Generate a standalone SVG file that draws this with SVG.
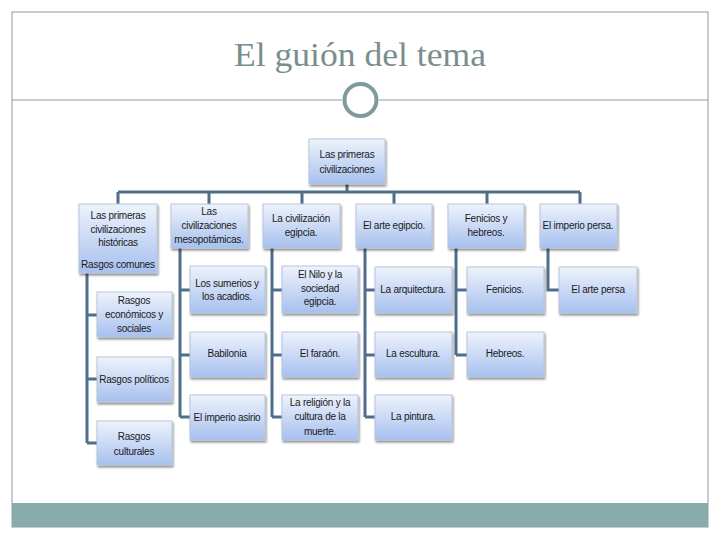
<svg xmlns="http://www.w3.org/2000/svg" width="720" height="540" viewBox="0 0 720 540">
<defs>
<linearGradient id="g" x1="0" y1="0" x2="0" y2="1">
<stop offset="0" stop-color="#eef3fc"/>
<stop offset="1" stop-color="#a7c0ee"/>
</linearGradient>
<filter id="sh" x="-10%" y="-10%" width="130%" height="130%">
<feGaussianBlur in="SourceAlpha" stdDeviation="1.2"/>
<feOffset dx="1" dy="2" result="b"/>
<feComponentTransfer><feFuncA type="linear" slope="0.45"/></feComponentTransfer>
<feMerge><feMergeNode/><feMergeNode in="SourceGraphic"/></feMerge>
</filter>
</defs>
<style>
.box{fill:url(#g);stroke:#b7c6dc;stroke-width:1;filter:url(#sh)}
.t{font-family:"Liberation Sans Narrow","Liberation Sans",Arial,sans-serif;font-size:10px;letter-spacing:-0.25px;fill:#1a1a1a;text-anchor:middle}
.c{stroke:#4f6e8c;stroke-width:3;fill:none}
</style>
<rect x="0" y="0" width="720" height="540" fill="#ffffff"/>
<rect x="12" y="12" width="696" height="515" fill="none" stroke="#8c9c9c" stroke-width="1"/>
<rect x="12" y="503" width="696" height="24" fill="#8aabab"/>
<text x="360" y="66" font-family="Liberation Serif,'Times New Roman',serif" font-size="34" fill="#7a8e8e" text-anchor="middle" textLength="252" lengthAdjust="spacingAndGlyphs">El guión del tema</text>
<line x1="12" y1="100" x2="342" y2="100" stroke="#8c9c9c" stroke-width="1"/>
<line x1="379" y1="100" x2="708" y2="100" stroke="#8c9c9c" stroke-width="1"/>
<circle cx="360.5" cy="100" r="16" fill="#ffffff" stroke="#7f9a9a" stroke-width="4"/>

<g id="connectors">
<path class="c" d="M347 184V192M118 192H580M118 192V204M209 192V204M302 192V204M394 192V204M487 192V204M580 192V204"/>
<path class="c" d="M87 273V443M87 315H97M87 379H97M87 443H97"/>
<path class="c" d="M180 248V417M180 290H190M180 355H190M180 417H190"/>
<path class="c" d="M272 248V417M272 290H282M272 355H282M272 417H282"/>
<path class="c" d="M365 248V417M365 290H375M365 355H375M365 417H375"/>
<path class="c" d="M456 248V355M456 290H467M456 355H467"/>
<path class="c" d="M548 248V290H559"/>
</g>

<g id="n-top"><rect class="box" x="309" y="139" width="76" height="45"/><text class="t" x="347" y="158">Las primeras</text><text class="t" x="347" y="173">civilizaciones</text></g>
<g id="n-hist"><rect class="box" x="79" y="204" width="78" height="69"/><text class="t" x="118" y="219">Las primeras</text><text class="t" x="118" y="233">civilizaciones</text><text class="t" x="118" y="246">históricas</text><text class="t" x="118" y="268">Rasgos comunes</text></g>
<g id="n-meso"><rect class="box" x="171" y="204" width="77" height="44"/><text class="t" x="209" y="215">Las</text><text class="t" x="209" y="229">civilizaciones</text><text class="t" x="209" y="243">mesopotámicas.</text></g>
<g id="n-egip"><rect class="box" x="263" y="204" width="77" height="44"/><text class="t" x="301" y="222">La civilización</text><text class="t" x="301" y="236">egipcia.</text></g>
<g id="n-arte"><rect class="box" x="356" y="204" width="76" height="44"/><text class="t" x="394" y="229">El arte egipcio.</text></g>
<g id="n-fen"><rect class="box" x="448" y="204" width="76" height="44"/><text class="t" x="486" y="222">Fenicios y</text><text class="t" x="486" y="236">hebreos.</text></g>
<g id="n-persa"><rect class="box" x="540" y="204" width="77" height="44"/><text class="t" x="578" y="229">El imperio persa.</text></g>

<g id="n-econ"><rect class="box" x="97" y="292" width="75" height="45"/><text class="t" x="134" y="304">Rasgos</text><text class="t" x="134" y="318">económicos y</text><text class="t" x="134" y="332">sociales</text></g>
<g id="n-pol"><rect class="box" x="97" y="357" width="75" height="45"/><text class="t" x="134" y="383">Rasgos políticos</text></g>
<g id="n-cult"><rect class="box" x="97" y="421" width="75" height="44"/><text class="t" x="134" y="440">Rasgos</text><text class="t" x="134" y="455">culturales</text></g>

<g id="n-sum"><rect class="box" x="190" y="266" width="75" height="47"/><text class="t" x="227" y="287">Los sumerios y</text><text class="t" x="227" y="300">los acadios.</text></g>
<g id="n-bab"><rect class="box" x="190" y="332" width="75" height="45"/><text class="t" x="227" y="357">Babilonia</text></g>
<g id="n-asi"><rect class="box" x="190" y="395" width="75" height="45"/><text class="t" x="227" y="421">El imperio asirio</text></g>

<g id="n-nilo"><rect class="box" x="282" y="266" width="76" height="47"/><text class="t" x="320" y="278">El Nilo y la</text><text class="t" x="320" y="292">sociedad</text><text class="t" x="320" y="305">egipcia.</text></g>
<g id="n-far"><rect class="box" x="282" y="332" width="76" height="45"/><text class="t" x="320" y="357">El faraón.</text></g>
<g id="n-rel"><rect class="box" x="282" y="395" width="76" height="45"/><text class="t" x="320" y="406">La religión y la</text><text class="t" x="320" y="420">cultura de la</text><text class="t" x="320" y="435">muerte.</text></g>

<g id="n-arq"><rect class="box" x="375" y="267" width="77" height="46"/><text class="t" x="413" y="293">La arquitectura.</text></g>
<g id="n-esc"><rect class="box" x="375" y="332" width="77" height="45"/><text class="t" x="413" y="357">La escultura.</text></g>
<g id="n-pin"><rect class="box" x="375" y="395" width="77" height="45"/><text class="t" x="413" y="420">La pintura.</text></g>

<g id="n-feni"><rect class="box" x="467" y="267" width="77" height="46"/><text class="t" x="505" y="293">Fenicios.</text></g>
<g id="n-heb"><rect class="box" x="467" y="332" width="77" height="45"/><text class="t" x="505" y="357">Hebreos.</text></g>

<g id="n-artep"><rect class="box" x="559" y="267" width="78" height="46"/><text class="t" x="598" y="293">El arte persa</text></g>
</svg>
